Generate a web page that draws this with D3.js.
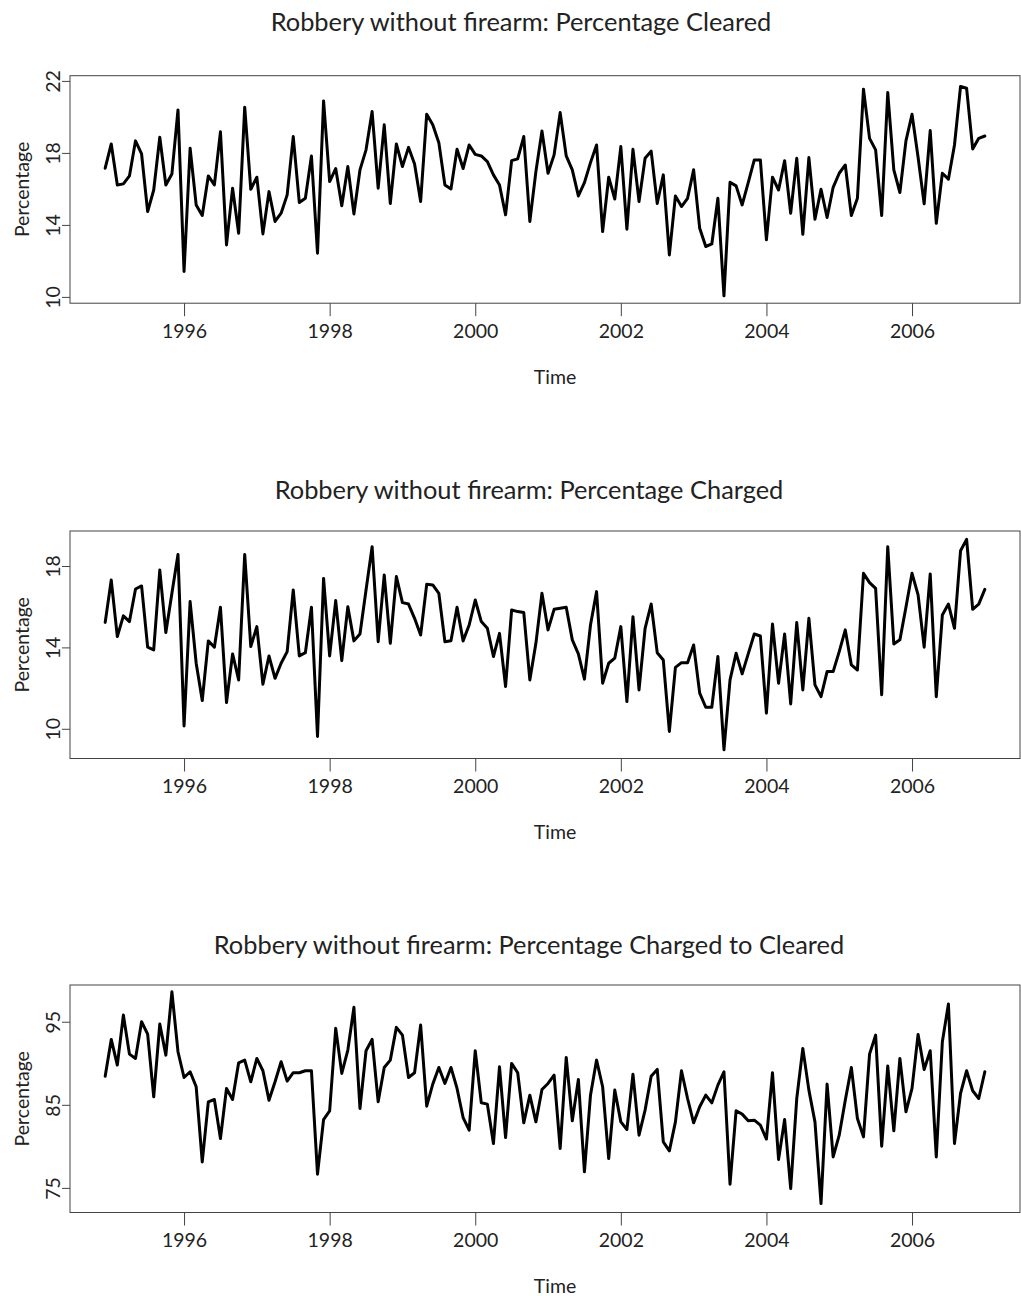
<!DOCTYPE html>
<html><head><meta charset="utf-8">
<script src="https://cdn.jsdelivr.net/npm/d3@7"></script>
<style>body{margin:0;background:#fff} svg text{font-family:Lato,"Open Sans",sans-serif;fill:#222}</style>
</head><body><svg id="c" width="1021" height="1296"></svg>
<script>
// ---- data ----
const startTime = 1994 + 11 / 12; // monthly series, Dec 1994 .. Jan 2007
const xTickValues = [1996, 1998, 2000, 2002, 2004, 2006];
const titles = [
  "Robbery without firearm: Percentage Cleared",
  "Robbery without firearm: Percentage Charged",
  "Robbery without firearm: Percentage Charged to Cleared"
];
const cleared = [
  17.15,18.5,16.22,16.28,16.72,18.67,17.94,14.74,15.94,18.87,
  16.22,16.83,20.39,11.41,18.26,15.11,14.52,16.72,16.22,19.17,
  12.89,16.04,13.54,20.54,15.98,16.65,13.5,15.85,14.19,14.65,
  15.67,18.91,15.24,15.48,17.83,12.43,20.89,16.41,17.13,15.07,
  17.24,14.61,17.06,18.17,20.3,16.04,19.56,15.19,18.5,17.24,
  18.31,17.39,15.3,20.15,19.56,18.57,16.22,16.0,18.2,17.13,
  18.44,17.92,17.83,17.52,16.78,16.22,14.56,17.57,17.67,18.91,
  14.19,16.96,19.22,16.87,17.89,20.24,17.83,17.06,15.61,16.35,
  17.46,18.44,13.63,16.65,15.44,18.35,13.76,18.2,15.3,17.7,
  18.1,15.19,16.78,12.33,15.61,15.02,15.48,17.06,13.81,12.8,
  12.94,15.48,10.06,16.37,16.17,15.11,16.35,17.61,17.61,13.17,
  16.65,15.94,17.57,14.65,17.7,13.48,17.74,14.31,15.98,14.41,
  16.09,16.87,17.33,14.52,15.48,21.54,18.81,18.17,14.52,21.35,
  17.06,15.8,18.67,20.15,17.76,15.17,19.24,14.09,16.87,16.54,
  18.44,21.69,21.59,18.22,18.81,18.94
];
const charged = [
  15.23,17.31,14.53,15.55,15.27,16.87,17.02,14.01,13.88,17.8,
  14.73,16.66,18.57,10.14,16.25,13.22,11.39,14.32,14.01,15.97,
  11.29,13.68,12.4,18.57,14.04,15.02,12.19,13.58,12.48,13.22,
  13.79,16.82,13.58,13.74,15.97,9.62,17.39,13.58,16.3,13.35,
  16.0,14.32,14.66,16.82,18.95,14.28,17.56,14.2,17.48,16.2,
  16.13,15.43,14.61,17.1,17.07,16.66,14.28,14.33,15.97,14.32,
  15.1,16.33,15.27,14.94,13.55,14.69,12.08,15.84,15.76,15.71,
  12.4,14.2,16.66,14.86,15.87,15.92,15.97,14.37,13.68,12.44,
  15.1,16.74,12.24,13.22,13.47,15.02,11.34,15.51,11.91,14.94,
  16.13,13.74,13.38,9.87,13.02,13.25,13.25,14.12,11.75,11.06,
  11.06,13.55,8.97,12.4,13.71,12.7,13.68,14.66,14.56,10.77,
  15.15,12.24,14.66,11.22,15.22,11.91,15.43,12.16,11.58,12.81,
  12.81,13.79,14.86,13.14,12.89,17.64,17.18,16.9,11.67,18.95,
  14.17,14.37,15.97,17.64,16.58,14.01,17.61,11.58,15.59,16.13,
  14.94,18.75,19.31,15.87,16.13,16.85
];
const chargedToCleared = [
  88.45,92.87,89.78,95.8,91.1,90.58,95.0,93.51,85.96,94.72,
  90.98,98.6,91.39,88.29,88.98,87.17,78.13,85.36,85.64,80.94,
  86.97,85.64,90.06,90.38,87.77,90.58,89.1,85.56,87.77,90.18,
  87.85,88.86,88.86,89.1,89.1,76.65,83.23,84.28,94.2,88.78,
  91.59,96.73,84.56,91.51,92.87,85.36,89.5,90.38,94.32,93.39,
  88.29,88.86,94.6,84.84,87.49,89.5,87.57,89.5,86.97,83.47,
  81.95,91.51,85.24,85.08,80.34,89.58,81.06,89.98,88.86,82.83,
  86.16,82.95,86.85,87.57,88.57,79.74,90.7,83.07,88.05,76.93,
  86.16,90.38,87.17,78.53,86.77,82.95,82.03,88.69,81.35,84.36,
  88.45,89.26,80.54,79.46,82.95,89.1,85.76,82.83,84.76,86.16,
  85.24,87.37,88.98,75.44,84.28,83.88,83.07,83.15,82.55,80.88,
  88.86,78.43,83.23,74.92,85.76,91.79,86.77,82.95,73.11,87.49,
  78.73,81.35,85.56,89.5,83.35,81.14,91.1,93.39,80.02,89.66,
  81.87,90.58,84.16,86.97,93.47,89.26,91.51,78.73,92.59,97.13,
  80.34,86.37,89.1,86.69,85.76,88.98
];
const yTickValues = [[10, 14, 18, 22], [10, 14, 18], [75, 85, 95]];
const yLimits = [[9.65, 22.29], [8.54, 19.72], [72.04, 99.42]];
const series = [cleared, charged, chargedToCleared];
const xLabel = "Time", yLabel = "Percentage";

// ---- layout ----
const svg = d3.select("#c");
const L = 70, R = 1020, H = 227.5;
const boxTops = [75.7, 531, 985];
const titleYs = [22, 490, 945];
const titleXs = [521, 529, 529];
const xLabelX = 555;
const FONT = "Lato, 'Open Sans', sans-serif";

const n = cleared.length;
const t0 = startTime, t1 = startTime + (n - 1) / 12;
const pad = (t1 - t0) * 0.04;
const x = d3.scaleLinear().domain([t0 - pad, t1 + pad]).range([L, R]);

series.forEach((vals, k) => {
  const top = boxTops[k], bot = top + H;
  const y = d3.scaleLinear().domain(yLimits[k]).range([bot, top]);
  const g = svg.append("g");

  const clipId = "clip" + k;
  g.append("clipPath").attr("id", clipId).append("rect")
    .attr("x", L).attr("y", top).attr("width", R - L).attr("height", H);

  const line = d3.line().x((d, i) => x(t0 + i / 12)).y(d => y(d));
  g.append("path").datum(vals)
    .attr("clip-path", `url(#${clipId})`)
    .attr("d", line).attr("fill", "none").attr("stroke", "#000")
    .attr("stroke-width", 3).attr("stroke-linejoin", "round").attr("stroke-linecap", "round");

  // box
  g.append("rect").attr("x", L).attr("y", top).attr("width", R - L).attr("height", H)
    .attr("fill", "none").attr("stroke", "#444").attr("stroke-width", 1);

  // x axis
  const xa = d3.axisBottom(x).tickValues(xTickValues).tickFormat(d3.format("d"))
    .tickSize(13).tickPadding(8);
  const gx = g.append("g").attr("transform", `translate(0,${bot})`).call(xa);
  gx.select(".domain").remove();
  gx.selectAll("line").attr("stroke", "#444");
  gx.selectAll("text").attr("font-size", 19.5).style("font-family", FONT).attr("fill", "#222");

  // y axis (labels parallel to the axis, as in R)
  const ya = d3.axisLeft(y).tickValues(yTickValues[k]).tickFormat(d3.format("d"))
    .tickSize(8).tickPadding(6);
  const gy = g.append("g").attr("transform", `translate(${L},0)`).call(ya);
  gy.select(".domain").remove();
  gy.selectAll("line").attr("stroke", "#444");
  gy.selectAll("text").attr("font-size", 19.5).style("font-family", FONT).attr("fill", "#222")
    .attr("x", null).attr("dy", null).attr("y", 0)
    .attr("text-anchor", "middle")
    .attr("transform", "translate(-10,0) rotate(-90)");

  // title
  g.append("text").attr("x", titleXs[k]).attr("y", titleYs[k]).attr("dy", "0.35em")
    .attr("text-anchor", "middle").attr("font-size", 25.4).text(titles[k]);
  // axis labels
  g.append("text").attr("x", xLabelX).attr("y", bot + 74).attr("dy", "0.35em")
    .attr("text-anchor", "middle").attr("font-size", 19.5).text(xLabel);
  g.append("text").attr("transform", `translate(22,${(top + bot) / 2}) rotate(-90)`)
    .attr("text-anchor", "middle").attr("dy", "0.35em").attr("font-size", 19.5).text(yLabel);
});
</script></body></html>
